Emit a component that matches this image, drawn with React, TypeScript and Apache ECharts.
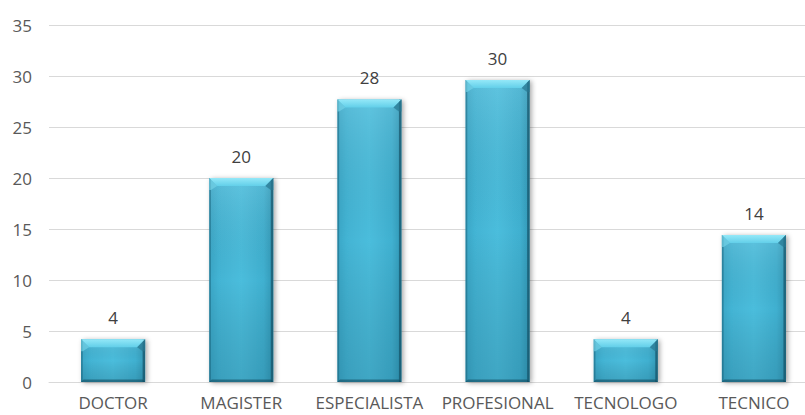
import React, { useEffect, useRef } from "react";
import * as echarts from "echarts";

const categories = ["DOCTOR", "MAGISTER", "ESPECIALISTA", "PROFESIONAL", "TECNOLOGO", "TECNICO"];
const values = [4.2, 20.0, 27.7, 29.6, 4.2, 14.4];
const yTicks = { min: 0, max: 35, interval: 5 };

const FONT = "'Open Sans', 'Noto Sans', sans-serif";

export default function App() {
  const ref = useRef<HTMLDivElement>(null);
  useEffect(() => {
    document.body.style.margin = "0";
    document.body.style.overflow = "hidden";
    if (!ref.current) return;
    const chart = echarts.init(ref.current, null, { renderer: "svg" });
    const data = values.map((v, i) => [i, v]);
    const renderItem = (params: any, api: any) => {
      const idx = api.value(0);
      const val = api.value(1);
      const top = api.coord([idx, val]);
      const base = api.coord([idx, 0]);
      const bw = api.size([1, 0])[0] * 0.5;
      const x0 = top[0] - bw / 2;
      const x1 = top[0] + bw / 2;
      const yT = top[1];
      const yB = base[1];
      const h = yB - yT;
      const b = Math.min(8, h / 3);
      const s = 2.5;
      return {
        type: "group",
        children: [
          {
            type: "rect",
            shape: { x: x0, y: yT, width: bw, height: h },
            style: {
              fill: new echarts.graphic.LinearGradient(0, 0, 1, 0, [
                { offset: 0, color: "#3aa6c6" },
                { offset: 0.15, color: "#43b4d4" },
                { offset: 0.5, color: "#4bbddc" },
                { offset: 0.85, color: "#40b0d0" },
                { offset: 1, color: "#3298b6" },
              ]),
              shadowBlur: 5,
              shadowColor: "rgba(0,0,0,0.35)",
              shadowOffsetX: 2,
              shadowOffsetY: 1,
            },
          },
          {
            type: "rect",
            shape: { x: x0, y: yT, width: bw, height: h },
            style: {
              fill: new echarts.graphic.LinearGradient(0, 0, 0, 1, [
                { offset: 0, color: "rgba(255,255,255,0.12)" },
                { offset: 0.5, color: "rgba(0,0,0,0)" },
                { offset: 1, color: "rgba(0,40,60,0.15)" },
              ]),
            },
          },
          {
            type: "rect",
            shape: { x: x0, y: yT, width: s * 0.7, height: h },
            style: { fill: "rgba(20,90,115,0.45)" },
          },
          {
            type: "rect",
            shape: { x: x1 - s, y: yT, width: s, height: h },
            style: { fill: "rgba(15,70,90,0.6)" },
          },
          {
            type: "polygon",
            shape: { points: [[x0, yB], [x0 + s, yB - s], [x1 - s, yB - s], [x1, yB]] },
            style: { fill: "rgba(15,70,90,0.55)" },
          },
          {
            type: "polygon",
            shape: { points: [[x0, yT], [x1, yT], [x1 - b, yT + b], [x0 + b, yT + b]] },
            style: {
              fill: new echarts.graphic.LinearGradient(0, 0, 0, 1, [
                { offset: 0, color: "#94e8f8" },
                { offset: 1, color: "#62cfe9" },
              ]),
            },
          },
          {
            type: "polygon",
            shape: { points: [[x0, yT], [x0 + b, yT + b], [x0 + s * 0.7, yT + b + 4], [x0, yT + b + 4]] },
            style: { fill: "rgba(120,215,235,0.6)" },
          },
          {
            type: "polygon",
            shape: { points: [[x1, yT], [x1 - b, yT + b], [x1 - s, yT + b + 4], [x1, yT + b + 4]] },
            style: { fill: "rgba(40,120,145,0.7)" },
          },
          {
            type: "text",
            x: top[0],
            y: yT - 22,
            style: {
              text: String(Math.round(val)),
              fill: "#404040",
              fontSize: 17,
              fontFamily: FONT,
              align: "center",
              verticalAlign: "middle",
            },
          },
        ],
      };
    };
    chart.setOption({
      animation: false,
      backgroundColor: "#ffffff",
      grid: { left: 49, top: 25, bottom: 33, right: 2, containLabel: false },
      xAxis: {
        type: "category",
        data: categories,
        axisLine: { show: true, lineStyle: { color: "#d9d9d9", width: 1 } },
        axisTick: { show: false },
        axisLabel: { color: "#595959", fontSize: 17, fontFamily: FONT, margin: 12, interval: 0 },
      },
      yAxis: {
        type: "value",
        min: yTicks.min,
        max: yTicks.max,
        interval: yTicks.interval,
        axisLine: { show: false },
        axisTick: { show: false },
        splitLine: { lineStyle: { color: "#d9d9d9", width: 1 } },
        axisLabel: { color: "#595959", fontSize: 17, fontFamily: FONT, margin: 17 },
      },
      series: [
        {
          type: "custom",
          renderItem,
          data,
          encode: { x: 0, y: 1 },
          clip: false,
        },
      ],
    });
    return () => chart.dispose();
  }, []);
  return (
    <div style={{ width: 805, height: 415, overflow: "hidden", position: "relative" }}>
      <div ref={ref} style={{ width: 820, height: 415 }} />
    </div>
  );
}
